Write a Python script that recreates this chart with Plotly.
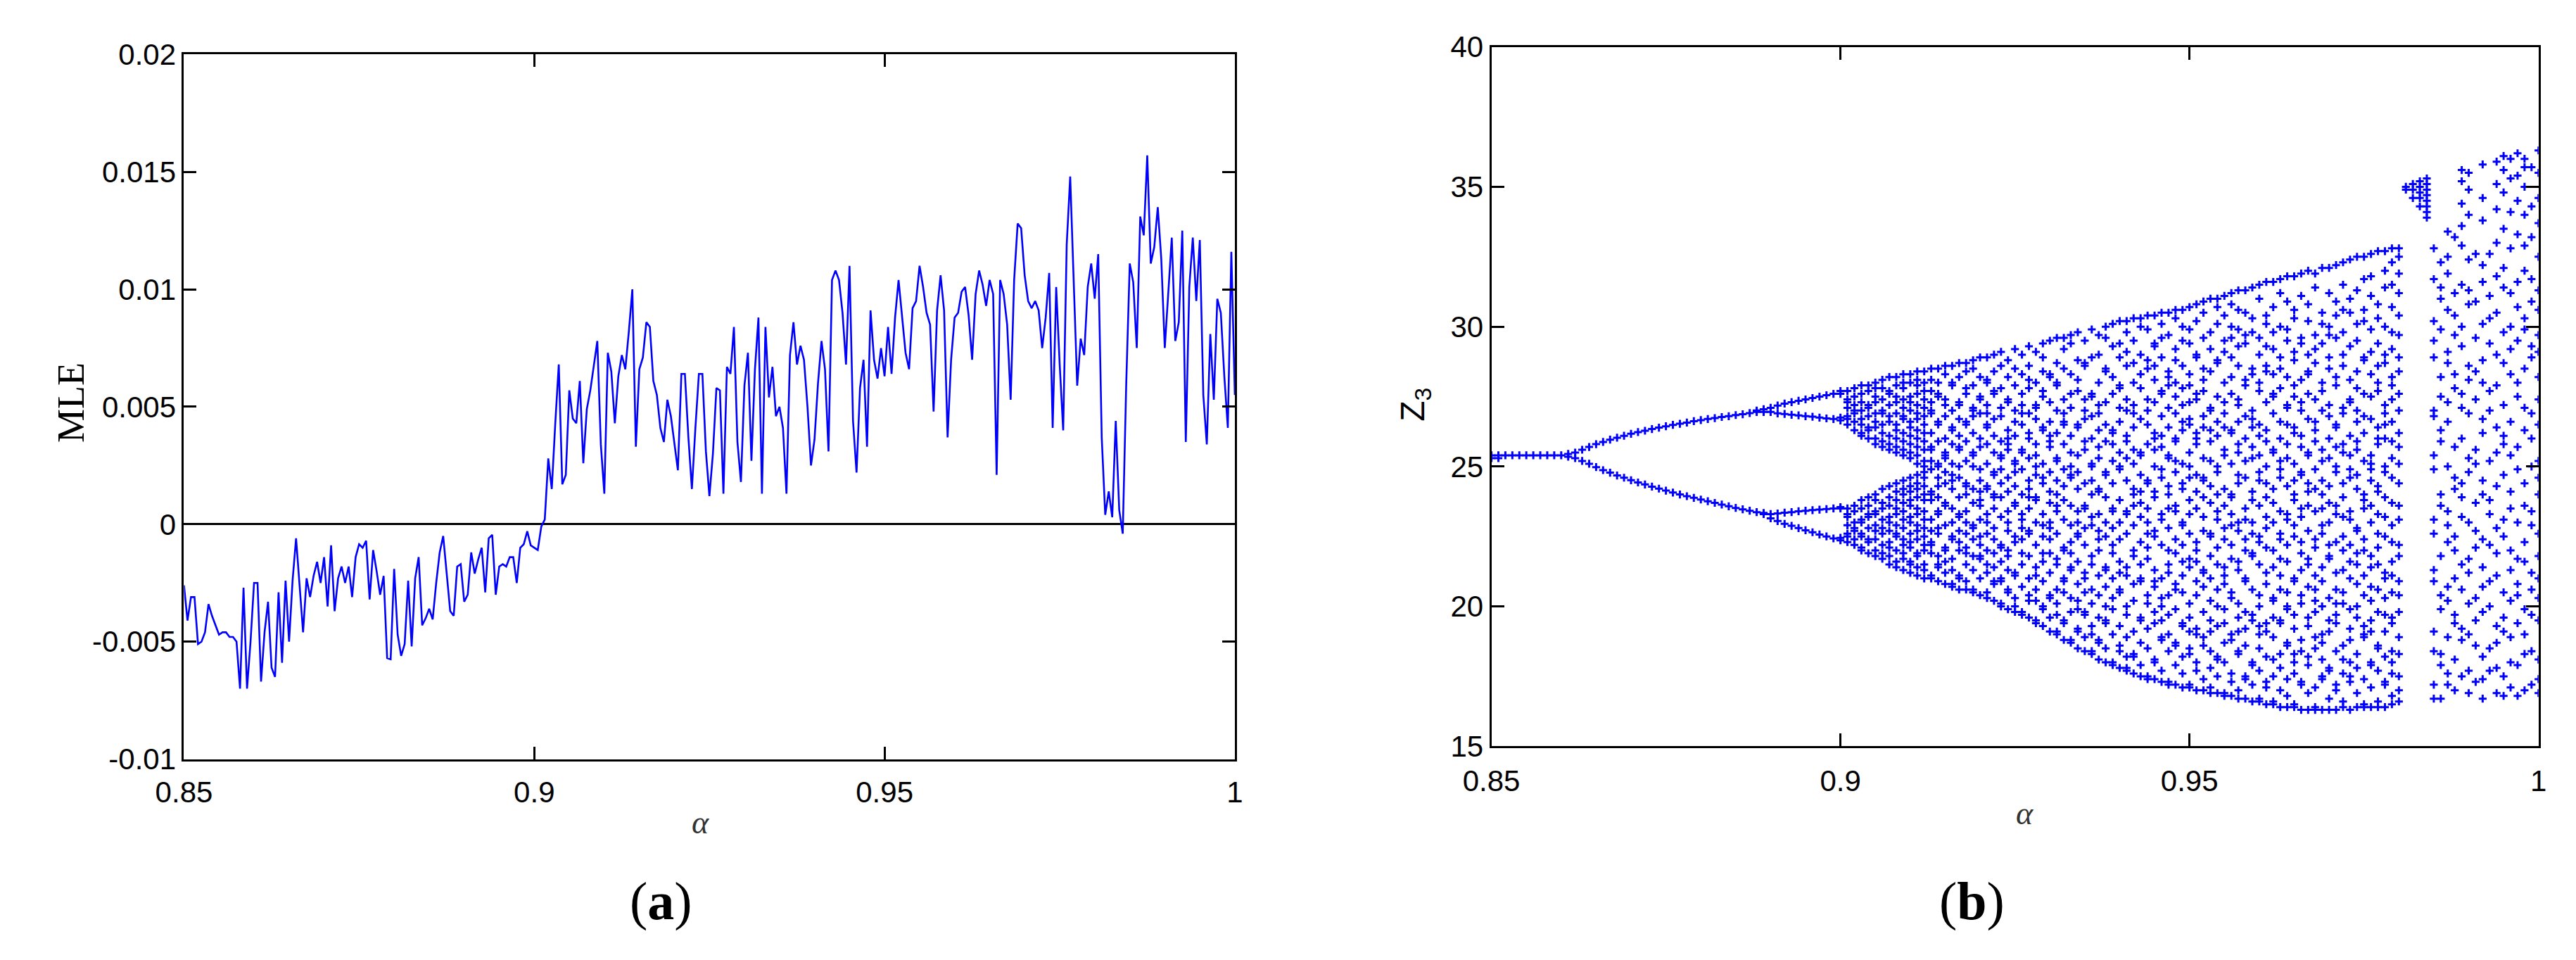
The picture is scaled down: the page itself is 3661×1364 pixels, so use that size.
import plotly.graph_objects as go

# ---------------- Panel (a): maximal Lyapunov exponent vs alpha ----------------
mle_alpha = [
    0.8500, 0.8505, 0.8510, 0.8515, 0.8520, 0.8525, 0.8530, 0.8535, 0.8540, 0.8545,
    0.8550, 0.8555, 0.8560, 0.8565, 0.8570, 0.8575, 0.8580, 0.8585, 0.8590, 0.8595,
    0.8600, 0.8605, 0.8610, 0.8615, 0.8620, 0.8625, 0.8630, 0.8635, 0.8640, 0.8645,
    0.8650, 0.8655, 0.8660, 0.8665, 0.8670, 0.8675, 0.8680, 0.8685, 0.8690, 0.8695,
    0.8700, 0.8705, 0.8710, 0.8715, 0.8720, 0.8725, 0.8730, 0.8735, 0.8740, 0.8745,
    0.8750, 0.8755, 0.8760, 0.8765, 0.8770, 0.8775, 0.8780, 0.8785, 0.8790, 0.8795,
    0.8800, 0.8805, 0.8810, 0.8815, 0.8820, 0.8825, 0.8830, 0.8835, 0.8840, 0.8845,
    0.8850, 0.8855, 0.8860, 0.8865, 0.8870, 0.8875, 0.8880, 0.8885, 0.8890, 0.8895,
    0.8900, 0.8905, 0.8910, 0.8915, 0.8920, 0.8925, 0.8930, 0.8935, 0.8940, 0.8945,
    0.8950, 0.8955, 0.8960, 0.8965, 0.8970, 0.8975, 0.8980, 0.8985, 0.8990, 0.8995,
    0.9000, 0.9005, 0.9010, 0.9015, 0.9020, 0.9025, 0.9030, 0.9035, 0.9040, 0.9045,
    0.9050, 0.9055, 0.9060, 0.9065, 0.9070, 0.9075, 0.9080, 0.9085, 0.9090, 0.9095,
    0.9100, 0.9105, 0.9110, 0.9115, 0.9120, 0.9125, 0.9130, 0.9135, 0.9140, 0.9145,
    0.9150, 0.9155, 0.9160, 0.9165, 0.9170, 0.9175, 0.9180, 0.9185, 0.9190, 0.9195,
    0.9200, 0.9205, 0.9210, 0.9215, 0.9220, 0.9225, 0.9230, 0.9235, 0.9240, 0.9245,
    0.9250, 0.9255, 0.9260, 0.9265, 0.9270, 0.9275, 0.9280, 0.9285, 0.9290, 0.9295,
    0.9300, 0.9305, 0.9310, 0.9315, 0.9320, 0.9325, 0.9330, 0.9335, 0.9340, 0.9345,
    0.9350, 0.9355, 0.9360, 0.9365, 0.9370, 0.9375, 0.9380, 0.9385, 0.9390, 0.9395,
    0.9400, 0.9405, 0.9410, 0.9415, 0.9420, 0.9425, 0.9430, 0.9435, 0.9440, 0.9445,
    0.9450, 0.9455, 0.9460, 0.9465, 0.9470, 0.9475, 0.9480, 0.9485, 0.9490, 0.9495,
    0.9500, 0.9505, 0.9510, 0.9515, 0.9520, 0.9525, 0.9530, 0.9535, 0.9540, 0.9545,
    0.9550, 0.9555, 0.9560, 0.9565, 0.9570, 0.9575, 0.9580, 0.9585, 0.9590, 0.9595,
    0.9600, 0.9605, 0.9610, 0.9615, 0.9620, 0.9625, 0.9630, 0.9635, 0.9640, 0.9645,
    0.9650, 0.9655, 0.9660, 0.9665, 0.9670, 0.9675, 0.9680, 0.9685, 0.9690, 0.9695,
    0.9700, 0.9705, 0.9710, 0.9715, 0.9720, 0.9725, 0.9730, 0.9735, 0.9740, 0.9745,
    0.9750, 0.9755, 0.9760, 0.9765, 0.9770, 0.9775, 0.9780, 0.9785, 0.9790, 0.9795,
    0.9800, 0.9805, 0.9810, 0.9815, 0.9820, 0.9825, 0.9830, 0.9835, 0.9840, 0.9845,
    0.9850, 0.9855, 0.9860, 0.9865, 0.9870, 0.9875, 0.9880, 0.9885, 0.9890, 0.9895,
    0.9900, 0.9905, 0.9910, 0.9915, 0.9920, 0.9925, 0.9930, 0.9935, 0.9940, 0.9945,
    0.9950, 0.9955, 0.9960, 0.9965, 0.9970, 0.9975, 0.9980, 0.9985, 0.9990, 0.9995,
    1.0000,
]

# MLE values in units of 1e-3
mle_milli = [
    -2.6, -4.1, -3.1, -3.1, -5.1, -5.0, -4.6, -3.4, -3.9, -4.3,
    -4.7, -4.6, -4.6, -4.8, -4.8, -5.0, -7.0, -2.7, -7.0, -5.0,
    -2.5, -2.5, -6.7, -4.6, -3.3, -6.1, -6.5, -2.9, -5.9, -2.4,
    -5.0, -2.4, -0.6, -2.6, -4.6, -2.3, -3.1, -2.2, -1.6, -2.5,
    -1.4, -3.5, -0.9, -3.7, -2.3, -1.8, -2.5, -1.8, -3.1, -1.4,
    -0.85, -1.0, -0.7, -3.2, -1.1, -2.0, -3.0, -2.2, -5.7, -5.75,
    -1.9, -4.7, -5.6, -5.1, -2.4, -5.2, -2.3, -1.4, -4.3, -4.0,
    -3.6, -4.05, -2.5, -1.2, -0.5, -2.1, -3.7, -3.9, -1.8, -1.7,
    -3.3, -3.0, -1.2, -2.1, -1.5, -1.0, -2.9, -0.6, -0.45, -3.0,
    -1.8, -1.7, -1.8, -1.4, -1.4, -2.5, -1.0, -0.85, -0.3, -0.9,
    -1.0, -1.1, -0.1, 0.2, 2.8, 1.5, 4.3, 6.8, 1.7, 2.1,
    5.7, 4.5, 4.3, 6.1, 2.6, 4.9, 5.7, 6.8, 7.8, 3.4,
    1.3, 7.3, 6.5, 4.3, 6.3, 7.2, 6.6, 8.2, 10.0, 3.3,
    6.6, 7.1, 8.6, 8.4, 6.1, 5.5, 4.1, 3.5, 5.3, 4.6,
    3.4, 2.3, 6.4, 6.4, 3.7, 1.5, 4.1, 6.4, 6.4, 3.1,
    1.2, 3.0, 5.8, 5.7, 1.3, 6.7, 6.4, 8.4, 3.5, 1.8,
    5.9, 7.3, 2.7, 6.6, 8.8, 1.3, 8.4, 5.4, 6.7, 4.6,
    5.0, 4.1, 1.3, 7.2, 8.6, 6.8, 7.6, 7.0, 5.0, 2.5,
    3.6, 6.0, 7.8, 6.6, 3.1, 10.4, 10.8, 10.4, 9.0, 6.8,
    11.0, 4.4, 2.2, 5.8, 7.0, 3.3, 9.1, 7.0, 6.2, 7.5,
    6.3, 8.4, 6.4, 8.8, 10.4, 8.8, 7.3, 6.6, 9.2, 9.5,
    11.0, 10.1, 9.0, 8.5, 4.8, 9.1, 10.6, 9.1, 3.7, 7.0,
    8.8, 9.0, 9.9, 10.1, 8.9, 7.0, 9.8, 10.8, 10.2, 9.3,
    10.4, 9.8, 2.1, 10.4, 9.8, 8.5, 5.3, 10.4, 12.8, 12.6,
    10.6, 9.5, 9.2, 9.5, 9.1, 7.5, 8.8, 10.7, 4.1, 10.1,
    6.8, 4.0, 11.9, 14.8, 10.5, 5.9, 7.9, 7.2, 10.1, 11.1,
    9.6, 11.5, 3.7, 0.4, 1.4, 0.3, 4.4, 0.6, -0.4, 6.0,
    11.1, 10.3, 7.5, 13.1, 12.3, 15.7, 11.1, 11.8, 13.5, 11.3,
    7.5, 9.8, 12.2, 7.8, 8.6, 12.5, 3.5, 10.1, 12.2, 9.5,
    12.1, 5.5, 3.4, 8.1, 5.3, 9.6, 9.0, 6.3, 4.1, 11.6,
    5.5,
]

mle_yticks = [-0.01, -0.005, 0, 0.005, 0.01, 0.015, 0.02]
mle_ytext = ["-0.01", "-0.005", "0", "0.005", "0.01", "0.015", "0.02"]
alpha_ticks = [0.85, 0.9, 0.95, 1.0]
alpha_text = ["0.85", "0.9", "0.95", "1"]

# ---------------- Panel (b): bifurcation diagram of Z3 vs alpha ----------------
bif_alpha = [
    0.850, 0.851, 0.852, 0.853, 0.854, 0.855, 0.856, 0.857, 0.858, 0.859,
    0.860, 0.861, 0.862, 0.863, 0.864, 0.865, 0.866, 0.867, 0.868, 0.869,
    0.870, 0.871, 0.872, 0.873, 0.874, 0.875, 0.876, 0.877, 0.878, 0.879,
    0.880, 0.881, 0.882, 0.883, 0.884, 0.885, 0.886, 0.887, 0.888, 0.889,
    0.890, 0.891, 0.892, 0.893, 0.894, 0.895, 0.896, 0.897, 0.898, 0.899,
    0.900, 0.901, 0.902, 0.903, 0.904, 0.905, 0.906, 0.907, 0.908, 0.909,
    0.910, 0.911, 0.912, 0.913, 0.914, 0.915, 0.916, 0.917, 0.918, 0.919,
    0.920, 0.921, 0.922, 0.923, 0.924, 0.925, 0.926, 0.927, 0.928, 0.929,
    0.930, 0.931, 0.932, 0.933, 0.934, 0.935, 0.936, 0.937, 0.938, 0.939,
    0.940, 0.941, 0.942, 0.943, 0.944, 0.945, 0.946, 0.947, 0.948, 0.949,
    0.950, 0.951, 0.952, 0.953, 0.954, 0.955, 0.956, 0.957, 0.958, 0.959,
    0.960, 0.961, 0.962, 0.963, 0.964, 0.965, 0.966, 0.967, 0.968, 0.969,
    0.970, 0.971, 0.972, 0.973, 0.974, 0.975, 0.976, 0.977, 0.978, 0.979,
    0.980, 0.981, 0.982, 0.983, 0.984, 0.985, 0.986, 0.987, 0.988, 0.989,
    0.990, 0.991, 0.992, 0.993, 0.994, 0.995, 0.996, 0.997, 0.998, 0.999,
    1.000,
]

bif_z = [
    [25.3, 25.4], [25.3, 25.4], [25.4], [25.4], [25.4], [25.4], [25.4], [25.4], [25.4], [25.4],
    [25.4], [25.35, 25.45], [25.3, 25.5], [25.2, 25.6], [25.1, 25.7], [24.98, 25.8], [24.87, 25.88],
    [24.78, 25.96], [24.68, 26.03], [24.6, 26.1],
    [24.51, 26.17], [24.43, 26.23], [24.36, 26.28], [24.28, 26.34], [24.21, 26.39], [24.14, 26.44],
    [24.07, 26.49], [24.0, 26.53], [23.94, 26.57], [23.88, 26.62],
    [23.82, 26.66], [23.76, 26.7], [23.7, 26.73], [23.64, 26.77], [23.58, 26.8], [23.52, 26.84],
    [23.47, 26.87], [23.42, 26.91], [23.37, 26.95, 27.0], [23.3, 23.34, 26.95, 27.05],
    [23.15, 23.3, 26.95, 27.1], [23.05, 23.32, 26.9, 27.18], [22.95, 23.35, 26.88, 27.25],
    [22.88, 23.37, 26.85, 27.3], [22.8, 23.4, 26.83, 27.35], [22.72, 23.42, 26.8, 27.4],
    [22.65, 23.44, 26.78, 27.45], [22.57, 23.46, 26.75, 27.5], [22.5, 23.48, 26.72, 27.55],
    [22.43, 23.5, 26.7, 27.6],
    [22.36, 22.45, 23.5, 23.55, 26.65, 26.75, 27.6, 27.7],
    # 0.901
    [22.3, 22.5, 22.6, 22.9, 23.2, 23.3, 23.5, 26.5, 26.7, 26.8, 27.1, 27.3, 27.4, 27.7],
    [22.2, 22.4, 22.7, 22.8, 23.0, 23.4, 23.6, 26.3, 26.6, 26.9, 27.0, 27.2, 27.5, 27.8],
    [22.0, 22.1, 22.5, 22.6, 23.0, 23.1, 23.5, 23.8, 26.1, 26.2, 26.5, 26.7, 27.0, 27.3, 27.6, 27.9],
    [21.9, 22.3, 22.4, 22.8, 23.2, 23.3, 23.6, 23.9, 26.0, 26.3, 26.4, 26.8, 27.1, 27.2, 27.7, 27.9],
    [21.8, 22.0, 22.4, 22.7, 22.9, 23.3, 23.4, 23.8, 24.0, 25.8, 26.0, 26.4, 26.6, 26.9, 27.3, 27.5, 27.8, 28.0],
    [21.7, 21.9, 22.2, 22.6, 22.8, 23.1, 23.5, 23.7, 24.2, 25.7, 25.9, 26.2, 26.5, 26.9, 27.0, 27.4, 27.8, 28.1],
    [21.5, 21.8, 22.1, 22.3, 22.7, 23.0, 23.2, 23.6, 23.9, 24.3, 25.6, 25.8, 26.1, 26.6, 26.8, 27.2, 27.6, 27.7, 28.2],
    [21.4, 21.6, 22.0, 22.5, 22.6, 22.9, 23.3, 23.5, 23.8, 24.1, 24.4, 25.5, 25.7, 26.0, 26.3, 26.5, 26.9, 27.3, 27.5, 27.9, 28.2],
    [21.3, 21.7, 21.9, 22.2, 22.4, 22.8, 23.1, 23.4, 23.7, 24.0, 24.2, 24.5, 25.4, 25.6, 25.9, 26.2, 26.7, 26.8, 27.1, 27.4, 27.8, 28.0, 28.3],
    # 0.910
    [21.2, 21.5, 21.6, 22.1, 22.3, 22.6, 23.0, 23.2, 23.6, 23.8, 24.1, 24.3, 24.6, 25.3, 25.5, 25.8, 26.1, 26.4, 26.6, 27.0, 27.3, 27.5, 28.0, 28.3],
    [21.1, 21.4, 21.8, 21.9, 22.4, 22.7, 22.9, 23.3, 23.5, 23.9, 24.2, 24.4, 24.7, 25.1, 25.4, 25.7, 26.0, 26.3, 26.7, 26.9, 27.2, 27.6, 27.9, 28.1, 28.4],
    [21.0, 21.3, 21.5, 22.0, 22.2, 22.5, 22.8, 23.1, 23.4, 23.8, 24.0, 24.3, 24.6, 24.8, 25.0, 25.2, 25.6, 25.9, 26.2, 26.5, 26.8, 27.1, 27.4, 27.7, 28.0, 28.4],
    [21.0, 21.1, 21.9, 22.2, 22.3, 22.7, 23.1, 23.8, 24.0, 24.1, 24.9, 25.2, 25.6, 25.7, 26.2, 26.9, 27.0, 27.3, 27.7, 28.1, 28.5],
    [20.9, 21.4, 21.5, 22.6, 22.8, 23.3, 23.4, 24.3, 24.6, 25.0, 25.1, 25.9, 26.5, 26.6, 27.5, 27.6, 28.0, 28.5, 21.8, 23.9],
    [20.8, 21.2, 22.0, 22.1, 22.9, 23.6, 23.7, 24.4, 25.3, 25.4, 25.5, 26.0, 26.8, 27.2, 27.4, 28.3, 28.6, 21.6, 24.8],
    [20.7, 20.8, 21.7, 22.4, 22.5, 23.0, 24.2, 24.5, 24.7, 25.1, 25.8, 26.3, 26.4, 27.0, 27.9, 28.0, 28.6, 21.3, 23.5],
    [20.6, 21.0, 21.1, 22.0, 22.7, 23.2, 23.3, 23.9, 24.6, 25.6, 25.7, 26.1, 26.7, 27.2, 27.3, 28.2, 28.7, 22.3, 25.0],
    [20.6, 21.5, 21.9, 22.1, 22.6, 23.4, 24.0, 24.3, 24.4, 25.2, 25.9, 26.5, 26.6, 27.6, 27.8, 28.4, 28.7, 20.9, 23.0],
    [20.5, 20.6, 21.3, 22.4, 22.8, 22.9, 23.7, 24.2, 25.0, 25.4, 25.5, 26.2, 27.0, 27.1, 27.9, 28.5, 28.8, 21.8, 26.8],
    # 0.920
    [20.4, 21.0, 21.7, 21.8, 22.2, 23.1, 23.6, 23.8, 24.5, 24.9, 25.7, 26.0, 26.9, 27.4, 27.5, 28.2, 28.9, 22.5, 24.1],
    [20.3, 20.5, 21.2, 21.5, 22.6, 23.0, 23.3, 24.2, 24.3, 25.1, 25.8, 26.4, 26.5, 27.2, 28.0, 28.1, 28.9, 22.0, 26.9],
    [20.2, 20.8, 20.9, 21.9, 22.4, 22.8, 23.5, 24.0, 24.7, 24.8, 25.5, 26.1, 26.7, 27.6, 27.7, 28.4, 29.0, 21.4, 23.9],
    [20.0, 20.1, 20.9, 21.6, 22.1, 22.2, 23.2, 23.9, 24.4, 25.3, 25.4, 25.9, 26.8, 27.1, 27.8, 28.6, 29.1, 21.0, 24.9],
    [19.9, 20.5, 20.6, 21.3, 22.0, 22.7, 23.0, 23.4, 24.1, 24.6, 25.6, 25.8, 26.3, 27.3, 27.4, 28.2, 28.8, 21.8, 26.0],
    [19.8, 20.3, 21.1, 21.2, 22.3, 22.5, 23.6, 23.7, 24.3, 25.1, 25.2, 26.1, 26.6, 27.0, 27.9, 28.5, 29.2, 20.0, 24.8],
    [19.7, 19.8, 20.7, 21.5, 21.9, 22.8, 23.1, 23.3, 24.0, 24.9, 25.5, 25.6, 26.5, 27.2, 27.6, 28.3, 29.0, 22.4, 26.9],
    [19.6, 20.2, 20.4, 21.0, 21.8, 22.6, 22.7, 23.5, 24.2, 24.5, 25.3, 26.0, 26.2, 26.9, 27.8, 28.6, 29.3, 23.9, 28.1],
    [19.4, 19.5, 20.6, 21.1, 21.4, 22.2, 23.0, 23.8, 23.9, 24.7, 25.4, 25.8, 26.7, 27.1, 27.2, 28.0, 29.1, 20.2, 25.0],
    [19.3, 19.9, 20.0, 20.9, 21.6, 22.5, 22.9, 23.3, 24.4, 24.6, 25.1, 26.3, 26.4, 27.5, 27.7, 28.4, 29.4, 21.9, 28.9],
    # 0.930
    [19.1, 19.6, 20.3, 20.4, 21.2, 21.9, 22.4, 23.0, 23.7, 24.1, 24.8, 25.7, 25.9, 26.6, 27.3, 28.2, 28.3, 29.5, 22.8, 26.1],
    [19.0, 19.1, 20.1, 20.6, 21.5, 21.7, 22.6, 23.4, 23.6, 24.5, 25.2, 25.3, 26.2, 27.0, 27.9, 28.7, 29.6, 19.7, 24.0, 28.0],
    [18.8, 19.4, 19.5, 20.5, 21.0, 22.0, 22.1, 23.1, 23.8, 24.3, 24.9, 25.8, 26.5, 26.6, 27.4, 28.5, 29.2, 20.9, 26.9, 29.6],
    [18.7, 18.8, 19.8, 20.3, 21.3, 21.4, 22.3, 22.9, 23.6, 24.6, 24.7, 25.5, 26.1, 27.1, 27.6, 28.3, 29.4, 21.9, 25.0, 29.7],
    [18.5, 19.1, 19.2, 20.2, 20.8, 21.6, 22.5, 22.6, 23.4, 24.2, 24.8, 25.4, 26.4, 26.5, 27.7, 28.1, 28.8, 29.8, 19.9, 23.0],
    [18.4, 18.9, 19.7, 19.8, 21.0, 21.2, 22.2, 22.8, 23.5, 23.6, 24.4, 25.6, 25.9, 26.7, 27.4, 28.6, 28.7, 29.5, 20.5, 27.0],
    [18.3, 18.4, 19.3, 20.1, 20.6, 21.5, 21.8, 22.9, 23.2, 24.0, 25.0, 25.1, 26.0, 26.8, 27.5, 27.6, 28.9, 29.9, 19.0, 24.5],
    [18.1, 18.7, 18.8, 19.6, 20.4, 21.1, 22.0, 22.4, 23.3, 24.1, 24.2, 25.3, 25.7, 26.3, 27.2, 28.0, 29.0, 29.7, 22.7, 26.9],
    [18.0, 18.5, 19.4, 19.5, 20.7, 21.3, 21.4, 22.5, 23.0, 23.9, 24.7, 24.8, 25.9, 26.5, 27.3, 28.4, 28.5, 29.6, 20.0, 30.0],
    [17.9, 18.0, 19.0, 19.9, 20.3, 21.0, 21.9, 22.2, 23.4, 23.5, 24.4, 25.2, 26.2, 26.3, 27.6, 28.2, 29.3, 30.1, 22.8, 25.8],
    # 0.940
    [17.8, 18.4, 18.6, 19.3, 20.5, 20.6, 21.6, 22.4, 23.0, 23.8, 24.9, 25.0, 25.5, 26.6, 27.8, 27.9, 28.9, 29.4, 30.2, 21.2, 27.1],
    [17.7, 17.8, 18.9, 19.7, 20.0, 21.1, 21.4, 22.6, 23.3, 23.4, 24.5, 25.3, 26.1, 27.0, 27.4, 28.6, 29.1, 30.2, 18.2, 25.9, 29.8],
    [17.6, 18.2, 18.3, 19.1, 20.2, 20.8, 21.8, 22.0, 22.9, 24.0, 24.2, 25.1, 25.6, 26.9, 27.2, 28.0, 29.5, 30.3, 23.6, 26.4, 28.7],
    [17.5, 17.9, 18.7, 19.5, 19.6, 20.9, 21.5, 22.3, 23.2, 23.7, 24.7, 25.4, 25.5, 26.7, 27.8, 28.3, 29.0, 30.0, 21.0, 24.1, 30.3],
    [17.4, 17.5, 18.5, 19.2, 20.1, 20.4, 21.7, 22.1, 23.0, 23.5, 24.4, 24.5, 25.8, 26.5, 27.0, 28.5, 28.8, 29.9, 30.4, 22.6, 27.4],
    [17.4, 18.0, 18.1, 19.4, 19.8, 20.7, 21.3, 22.5, 22.7, 23.9, 24.1, 25.0, 26.0, 26.2, 27.3, 28.1, 29.3, 29.4, 30.4, 20.9, 25.6, 28.6],
    [17.3, 17.7, 18.8, 18.9, 20.0, 20.3, 21.0, 22.2, 23.1, 23.3, 24.6, 24.9, 25.7, 26.8, 27.6, 27.7, 28.9, 30.1, 30.5, 19.5, 26.1, 29.6],
    [17.2, 17.3, 18.4, 19.0, 19.7, 21.2, 21.5, 22.0, 22.8, 24.0, 24.3, 25.3, 25.4, 26.4, 27.1, 28.2, 28.4, 29.7, 30.5, 20.4, 23.5, 27.9],
    [17.2, 17.9, 18.6, 18.7, 19.9, 20.6, 20.8, 21.9, 22.4, 23.4, 23.6, 24.8, 25.9, 26.0, 26.9, 27.5, 28.8, 29.2, 30.3, 30.6, 25.2, 28.0],
    [17.1, 17.6, 18.2, 19.3, 19.4, 20.5, 21.1, 21.6, 22.9, 23.0, 24.2, 24.4, 25.1, 26.3, 26.6, 27.8, 28.6, 29.5, 30.0, 30.6, 22.2, 27.2],
    # 0.950
    [17.1, 17.2, 18.3, 18.5, 19.6, 20.1, 21.4, 21.7, 22.6, 23.3, 23.8, 25.0, 25.5, 26.5, 26.7, 27.9, 28.3, 29.4, 29.9, 30.7, 19.1, 24.6, 27.3],
    [17.0, 17.7, 18.0, 19.0, 19.2, 20.4, 20.9, 22.0, 22.3, 23.5, 24.1, 24.7, 25.8, 26.2, 27.4, 27.6, 28.9, 29.0, 30.2, 30.8, 21.6, 26.0],
    [17.0, 17.4, 18.6, 18.9, 19.8, 20.7, 21.2, 21.3, 22.7, 23.2, 24.5, 24.6, 25.3, 26.4, 26.8, 28.1, 28.5, 29.6, 30.5, 30.9, 23.9, 27.7],
    [16.9, 17.1, 17.8, 19.1, 19.5, 20.2, 21.0, 21.8, 22.5, 22.6, 23.7, 24.3, 25.2, 25.9, 27.0, 27.1, 28.4, 29.2, 29.8, 31.0, 18.4, 26.3],
    [16.9, 17.5, 18.1, 18.2, 19.3, 20.0, 20.6, 21.5, 22.1, 23.1, 23.4, 24.8, 25.0, 26.1, 26.6, 27.5, 28.7, 28.8, 30.1, 30.7, 24.0, 31.0],
    [16.8, 16.9, 18.0, 18.7, 19.4, 19.9, 21.1, 21.4, 22.4, 22.8, 23.6, 24.2, 25.4, 25.6, 26.9, 27.3, 28.0, 29.1, 29.5, 30.4, 31.1, 20.8, 26.4],
    [16.8, 17.3, 17.6, 18.8, 19.0, 20.3, 20.5, 21.7, 22.2, 23.3, 23.9, 24.0, 25.1, 26.2, 26.3, 27.6, 28.2, 28.9, 30.0, 30.8, 31.2, 22.9, 29.6],
    [16.7, 17.0, 18.3, 18.4, 19.6, 20.1, 21.3, 21.6, 22.7, 23.0, 24.4, 24.7, 25.5, 25.8, 27.2, 27.4, 28.6, 29.3, 29.9, 31.3, 19.1, 26.6, 30.6],
    [16.7, 17.4, 17.5, 18.6, 19.2, 19.8, 20.9, 21.0, 22.0, 23.1, 23.5, 24.6, 25.2, 26.0, 26.8, 27.9, 28.1, 29.4, 29.7, 31.3, 22.4, 30.5],
    [16.6, 17.2, 17.9, 18.0, 19.5, 19.7, 20.6, 21.8, 21.9, 23.0, 23.8, 24.1, 25.3, 25.7, 26.7, 27.0, 28.3, 28.5, 29.8, 30.3, 31.4, 22.6, 26.4],
    # 0.960
    [16.6, 16.7, 17.7, 18.5, 19.0, 20.0, 20.4, 21.5, 22.3, 22.5, 23.6, 24.5, 24.8, 26.1, 26.5, 27.7, 28.0, 29.0, 29.6, 31.0, 31.5, 19.3, 25.4],
    [16.5, 17.1, 17.3, 18.2, 19.1, 19.4, 20.8, 21.2, 22.1, 22.8, 23.2, 24.4, 25.0, 25.9, 26.3, 27.3, 28.4, 28.6, 30.1, 30.4, 31.6, 23.9, 29.3],
    [16.5, 16.6, 17.5, 18.1, 18.9, 20.2, 20.3, 21.4, 22.0, 23.0, 23.7, 24.2, 25.5, 25.6, 26.9, 27.5, 27.6, 29.2, 29.8, 30.7, 31.6, 19.6, 28.3],
    [16.4, 17.0, 17.8, 18.3, 19.4, 19.5, 20.6, 21.1, 22.4, 22.6, 23.4, 24.6, 24.9, 26.0, 26.6, 27.8, 28.5, 28.9, 30.0, 31.2, 31.7, 21.7, 25.2],
    [16.4, 16.8, 17.4, 18.6, 18.7, 19.9, 20.5, 21.6, 22.2, 23.1, 23.3, 24.3, 25.3, 25.8, 27.1, 27.2, 28.2, 29.5, 29.9, 30.9, 31.8, 20.0, 26.5],
    [16.4, 16.5, 17.6, 18.0, 19.2, 19.7, 20.9, 21.0, 22.5, 22.9, 23.8, 24.0, 25.1, 26.2, 26.4, 27.5, 28.8, 29.1, 30.3, 30.6, 31.8, 18.3, 24.5, 27.9],
    [16.3, 17.2, 17.3, 18.4, 18.8, 20.1, 20.4, 21.3, 21.9, 23.2, 23.5, 24.7, 24.8, 25.7, 27.0, 27.3, 28.1, 29.4, 29.6, 31.1, 31.9, 22.3, 26.1],
    [16.3, 16.9, 17.9, 18.2, 19.3, 19.6, 20.7, 21.5, 21.7, 22.7, 23.6, 24.1, 25.4, 25.5, 26.7, 27.6, 28.3, 28.4, 30.2, 30.8, 32.0, 24.4, 29.0],
    [16.3, 16.4, 17.1, 18.5, 18.9, 19.8, 20.2, 21.1, 22.1, 22.4, 23.4, 24.2, 24.9, 26.3, 26.6, 27.4, 28.7, 29.2, 29.7, 31.4, 31.9, 20.6, 25.9],
    [16.3, 17.4, 17.5, 18.7, 19.0, 20.0, 20.9, 21.4, 22.6, 22.9, 24.0, 24.5, 25.2, 25.6, 27.0, 27.7, 28.0, 29.4, 30.1, 30.5, 32.1, 18.1, 23.5],
    # 0.970
    [16.3, 16.7, 17.7, 17.8, 19.1, 19.5, 20.3, 21.7, 21.8, 23.0, 23.7, 24.3, 25.3, 26.0, 26.8, 27.2, 28.5, 28.9, 30.0, 31.2, 32.1, 22.2, 29.7],
    [16.3, 17.0, 17.2, 18.4, 19.4, 19.7, 20.6, 21.2, 22.3, 23.3, 23.6, 24.8, 25.0, 26.4, 26.5, 27.9, 28.2, 29.6, 30.4, 30.9, 32.2, 20.1, 25.7],
    [16.4, 16.6, 17.6, 18.1, 18.6, 20.1, 20.5, 21.3, 22.0, 22.5, 23.9, 24.4, 25.5, 25.8, 26.9, 27.1, 28.6, 29.0, 29.8, 31.5, 32.3, 23.2, 30.6],
    [16.3, 17.3, 17.5, 18.8, 19.2, 19.9, 21.0, 21.6, 22.2, 23.1, 23.4, 24.6, 24.9, 26.1, 27.3, 27.4, 28.1, 29.3, 30.5, 31.0, 32.4, 18.0, 25.4],
    [16.4, 16.9, 17.8, 18.3, 19.6, 20.0, 20.8, 21.9, 22.7, 22.8, 24.2, 24.7, 25.6, 25.9, 27.0, 27.8, 28.4, 29.5, 30.1, 31.3, 32.5, 21.5, 26.6],
    [16.4, 16.5, 17.4, 18.9, 19.0, 19.3, 20.4, 21.1, 22.4, 23.5, 23.8, 24.0, 25.2, 26.2, 26.8, 27.6, 28.8, 28.9, 30.6, 31.7, 32.5, 22.0, 30.2],
    [16.4, 17.1, 17.9, 18.0, 19.5, 20.2, 20.7, 21.4, 21.8, 23.0, 23.6, 24.5, 25.1, 25.4, 26.7, 27.5, 28.3, 29.1, 29.9, 31.1, 32.6, 19.1, 24.9, 31.8],
    [16.4, 16.6, 17.7, 18.5, 18.6, 19.8, 20.6, 21.5, 22.1, 22.6, 24.1, 24.3, 25.8, 26.0, 26.4, 27.7, 28.0, 29.4, 30.3, 30.8, 32.7, 23.3, 28.6],
    [16.4, 17.2, 17.3, 18.2, 19.1, 19.7, 21.0, 21.2, 22.5, 23.2, 23.9, 24.8, 25.0, 26.5, 26.9, 27.2, 28.7, 29.0, 30.0, 31.4, 32.7, 20.3, 26.0, 32.0],
    [16.5, 16.8, 17.6, 18.4, 19.4, 19.6, 20.5, 21.6, 22.3, 22.9, 23.7, 24.6, 25.3, 25.9, 26.6, 27.9, 28.2, 29.2, 29.8, 30.7, 31.5, 32.3, 32.8, 18.0, 21.1, 27.4],
    # 0.980
    [16.6, 17.0, 17.5, 18.3, 18.9, 19.8, 20.4, 20.9, 21.8, 22.2, 23.1, 23.6, 24.4, 25.1, 25.7, 26.2, 27.0, 27.6, 28.4, 28.9, 29.7, 30.4, 31.2, 31.9, 32.5, 32.8],
    [34.9, 35.0],
    [34.6, 34.9, 35.1],
    [34.3, 34.6, 34.8, 35.0, 35.2],
    [33.9, 34.1, 34.3, 34.5, 34.7, 34.9, 35.1, 35.3],
    # 0.985
    [16.7, 17.2, 18.4, 19.1, 20.9, 21.3, 22.6, 23.1, 24.9, 25.4, 26.8, 27.0, 28.9, 29.5, 30.2, 31.7, 32.8],
    [16.7, 17.9, 18.3, 19.9, 20.4, 21.8, 23.6, 24.0, 25.9, 26.3, 27.5, 28.2, 29.9, 31.0, 31.4, 32.3],
    [17.2, 17.6, 18.9, 20.2, 20.7, 22.3, 22.9, 23.4, 25.0, 26.6, 27.3, 28.7, 29.1, 30.6, 31.9, 32.5, 33.4],
    [17.0, 18.1, 19.4, 19.7, 21.0, 22.0, 22.5, 24.2, 24.6, 25.7, 27.8, 28.3, 29.7, 30.4, 31.2, 33.2],
    [17.5, 18.8, 19.2, 20.6, 21.5, 23.2, 23.9, 24.4, 26.0, 27.1, 27.6, 29.3, 30.0, 31.5, 32.9, 33.6, 34.4, 35.2, 35.6],
    # 0.990
    [16.9, 17.7, 19.0, 20.1, 21.2, 21.7, 23.0, 24.8, 25.3, 26.9, 28.1, 28.6, 30.8, 31.3, 32.4, 34.0, 34.9, 35.5],
    [17.3, 18.6, 19.5, 20.3, 22.1, 22.7, 23.7, 25.1, 25.6, 27.4, 28.4, 29.6, 30.9, 32.6],
    [16.7, 17.4, 18.2, 19.8, 20.7, 21.4, 22.4, 24.0, 24.5, 26.2, 26.7, 28.0, 28.8, 30.1, 31.6, 32.2, 33.8, 34.6, 35.8],
    [17.7, 18.5, 20.0, 20.9, 22.2, 23.3, 23.8, 25.2, 27.0, 27.7, 29.4, 30.3, 31.1, 32.6],
    [16.9, 17.8, 18.7, 19.3, 21.1, 21.9, 22.8, 24.3, 25.5, 26.4, 27.9, 29.0, 30.5, 31.8, 33.0, 34.2, 35.1, 35.9],
    [16.8, 17.5, 19.1, 19.6, 20.5, 22.5, 23.1, 24.7, 25.8, 26.1, 27.2, 28.7, 29.8, 31.4, 32.1, 33.5, 34.8, 35.6, 36.1],
    [17.1, 18.0, 18.9, 20.2, 21.3, 22.0, 23.5, 24.1, 25.4, 26.6, 28.3, 29.2, 30.0, 31.2, 32.8, 34.1, 35.3, 36.0],
    [16.8, 17.9, 19.4, 20.4, 20.8, 21.7, 23.0, 24.9, 25.7, 27.5, 28.0, 29.5, 30.7, 31.6, 33.3, 34.5, 35.4, 36.2],
    [17.0, 18.3, 19.0, 19.9, 21.6, 22.3, 23.6, 24.4, 26.3, 27.1, 28.5, 29.9, 30.3, 32.0, 32.9, 34.0, 35.0, 35.7, 36.0],
    [17.2, 18.4, 19.7, 20.6, 21.2, 22.9, 23.4, 25.0, 26.0, 26.9, 28.9, 29.3, 30.9, 31.7, 33.2, 34.3, 35.7],
    # 1.000
    [16.9, 17.4, 18.1, 19.5, 20.3, 21.0, 21.8, 22.6, 24.0, 24.6, 25.2, 26.5, 27.4, 28.2, 29.1, 29.7, 30.6, 31.3, 32.5, 33.7, 34.6, 35.5, 36.3],
]

z3_ticks = [15, 20, 25, 30, 35, 40]

# ---------------- build figure ----------------
mle_values = [v / 1000.0 for v in mle_milli]
pts_alpha, pts_z = [], []
for a, zs in zip(bif_alpha, bif_z):
    for z in zs:
        pts_alpha.append(a)
        pts_z.append(z)

BLUE = "#0000FF"
TICKFONT = dict(family="Liberation Sans Narrow, Arial Narrow, Liberation Sans, Arial", size=42, color="black")

fig = go.Figure()
fig.add_trace(go.Scatter(x=mle_alpha, y=mle_values, mode="lines",
                         line=dict(color=BLUE, width=2.6), xaxis="x", yaxis="y",
                         showlegend=False, hoverinfo="skip"))
fig.add_trace(go.Scatter(x=pts_alpha, y=pts_z, mode="markers",
                         marker=dict(symbol="cross-thin", size=8, color=BLUE,
                                     line=dict(color=BLUE, width=3)),
                         xaxis="x2", yaxis="y2", showlegend=False, hoverinfo="skip"))

W, H = 3661, 1364
axis_common = dict(showline=True, linecolor="black", linewidth=3, mirror="ticks",
                   ticks="inside", ticklen=18, tickwidth=3, tickcolor="black",
                   showgrid=False, tickfont=TICKFONT)

fig.update_layout(
    width=W, height=H,
    margin=dict(l=0, r=0, t=0, b=0),
    paper_bgcolor="white", plot_bgcolor="white",
    xaxis=dict(domain=[215.6 / W, 1731 / W], range=[0.85, 1.0], zeroline=False,
               tickvals=alpha_ticks, ticktext=alpha_text, anchor="y",
               ticklabelstandoff=8, **axis_common),
    yaxis=dict(domain=[1 - 1085 / H, 1 - 48 / H], range=[-0.01, 0.02],
               tickvals=mle_yticks, ticktext=mle_ytext, anchor="x", **axis_common,
               zeroline=True, zerolinecolor="black", zerolinewidth=3),
    xaxis2=dict(domain=[2101 / W, 3611 / W], range=[0.85, 1.0], zeroline=False,
                tickvals=alpha_ticks, ticktext=alpha_text, anchor="y2",
                ticklabelstandoff=10, **axis_common),
    yaxis2=dict(domain=[1 - 1066 / H, 1 - 37 / H], range=[15, 40], zeroline=False,
                tickvals=z3_ticks, anchor="x2", **axis_common),
)

annots = [
    dict(text="MLE", x=52 / W, y=1 - 560 / H, textangle=-90,
         font=dict(family="Liberation Serif, Times New Roman", size=54, color="black")),
    dict(text="<i>α</i>", x=960 / W, y=1 - 1178 / H,
         font=dict(family="Liberation Serif, Times New Roman", size=46, color="#333333")),
    dict(text="(<b>a</b>)", x=904 / W, y=1 - 1294 / H,
         font=dict(family="Liberation Serif, Times New Roman", size=76, color="black")),
    dict(text="Z<sub>3</sub>", x=1990 / W, y=1 - 563 / H, textangle=-90,
         font=dict(family="Liberation Sans, Arial", size=48, color="black")),
    dict(text="<i>α</i>", x=2870 / W, y=1 - 1165 / H,
         font=dict(family="Liberation Serif, Times New Roman", size=46, color="#333333")),
    dict(text="(<b>b</b>)", x=2794 / W, y=1 - 1294 / H,
         font=dict(family="Liberation Serif, Times New Roman", size=76, color="black")),
]
for a in annots:
    a.update(xref="paper", yref="paper", showarrow=False, xanchor="center", yanchor="middle")
fig.update_layout(annotations=annots)

fig.write_html("out.html")
